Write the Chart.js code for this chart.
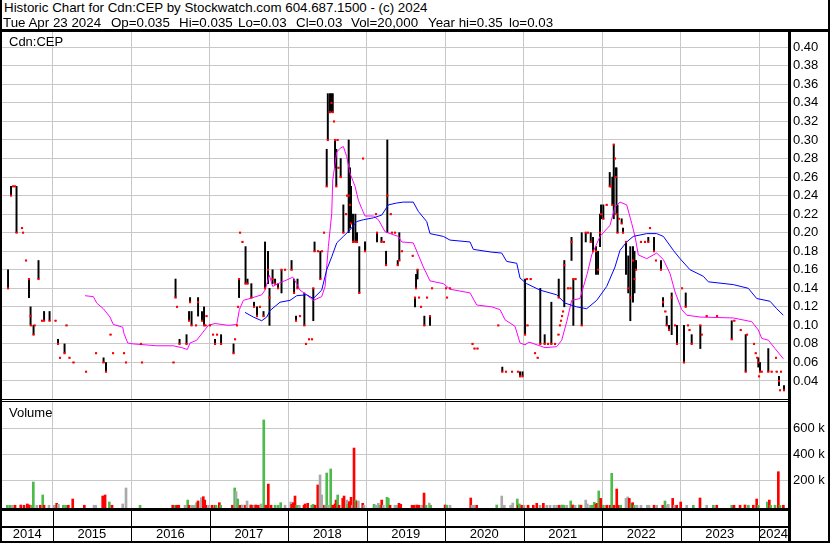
<!DOCTYPE html>
<html>
<head>
<meta charset="utf-8">
<script src="https://cdn.jsdelivr.net/npm/chart.js@4.4.1/dist/chart.umd.min.js"></script>
<style>
  body { margin: 0; background: #fff; }
  #wrap { position: relative; width: 830px; height: 543px; overflow: hidden;
          font-family: "Liberation Sans", Arial, sans-serif; font-size: 13px; color: #000; }
  .txt { position: absolute; white-space: pre; line-height: 14px; }
  .hd { font-size: 13.33px; }
  .ln { position: absolute; background: #000; }
  canvas { position: absolute; left: 0; }
</style>
</head>
<body>
<div id="wrap">
  <canvas id="price" width="830" height="368" style="top:32px"></canvas>
  <canvas id="volume" width="830" height="141" style="top:402px"></canvas>

  <div class="txt hd" style="left:4px;top:1px">Historic Chart for Cdn:CEP by Stockwatch.com 604.687.1500 - (c) 2024</div>
  <div class="txt hd" style="left:3px;top:16px">Tue Apr 23 2024</div>
  <div class="txt hd" style="left:111px;top:16px">Op=0.035</div>
  <div class="txt hd" style="left:179px;top:16px">Hi=0.035</div>
  <div class="txt hd" style="left:238px;top:16px">Lo=0.03</div>
  <div class="txt hd" style="left:296px;top:16px">Cl=0.03</div>
  <div class="txt hd" style="left:351px;top:16px">Vol=20,000</div>
  <div class="txt hd" style="left:428px;top:16px">Year hi=0.35</div>
  <div class="txt hd" style="left:509px;top:16px">lo=0.03</div>
  <div class="txt" style="left:9px;top:35px">Cdn:CEP</div>
  <div class="txt" style="left:9px;top:406px">Volume</div>

  <!-- frame -->
  <div class="ln" style="left:0;top:0;width:2px;height:543px"></div>
  <div class="ln" style="left:828px;top:0;width:2px;height:543px"></div>
  <div class="ln" style="left:0;top:29px;width:830px;height:3px"></div>
  <div class="ln" style="left:788px;top:29px;width:3px;height:514px"></div>
  <div class="ln" style="left:0;top:399px;width:791px;height:1px"></div>
  <div class="ln" style="left:0;top:401px;width:791px;height:1px"></div>
  <div class="ln" style="left:0;top:508px;width:791px;height:3px"></div>
  <div class="ln" style="left:0;top:526px;width:791px;height:2px"></div>
  <div class="ln" style="left:0;top:541px;width:830px;height:2px"></div>
</div>

<script>
// weekly bars, dates as decimal years
const priceDates = [
  2014.432, 2014.470, 2014.496, 2014.521, 2014.540, 2014.610, 2014.623, 2014.661, 2014.699, 2014.719,
  2014.725, 2014.757, 2014.770, 2014.820, 2014.865, 2014.891, 2014.961, 2015.037, 2015.069, 2015.094,
  2015.152, 2015.177, 2015.215, 2015.266, 2015.426, 2015.553, 2015.649, 2015.680, 2015.738, 2015.770,
  2015.910, 2015.935, 2016.126, 2016.139, 2016.540, 2016.566, 2016.585, 2016.617, 2016.706, 2016.738,
  2016.751, 2016.770, 2016.827, 2016.853, 2016.903, 2016.929, 2016.948, 2016.961, 2017.005, 2017.044,
  2017.069, 2017.095, 2017.146, 2017.305, 2017.324, 2017.349, 2017.362, 2017.375, 2017.388, 2017.419,
  2017.458, 2017.483, 2017.532, 2017.566, 2017.604, 2017.642, 2017.687, 2017.706, 2017.744, 2017.763,
  2017.802, 2017.834, 2017.872, 2017.916, 2017.961, 2018.044, 2018.076, 2018.101, 2018.120, 2018.152,
  2018.207, 2018.228, 2018.267, 2018.305, 2018.321, 2018.337, 2018.381, 2018.411, 2018.432, 2018.458,
  2018.492, 2018.506, 2018.534, 2018.553, 2018.569, 2018.585, 2018.598, 2018.614, 2018.630, 2018.642,
  2018.670, 2018.704, 2018.738, 2018.751, 2018.772, 2018.789, 2018.802, 2018.827, 2018.857, 2018.878,
  2018.907, 2018.955, 2018.980, 2019.120, 2019.133, 2019.190, 2019.222, 2019.248, 2019.264, 2019.308,
  2019.324, 2019.362, 2019.397, 2019.417, 2019.451, 2019.588, 2019.617, 2019.630, 2019.649, 2019.668,
  2019.694, 2019.736, 2019.770, 2019.808, 2019.834, 2020.012, 2020.025, 2020.063, 2020.350, 2020.375,
  2020.413, 2020.678, 2020.729, 2020.776, 2020.853, 2020.929, 2020.955, 2020.987, 2021.019, 2021.044,
  2021.050, 2021.091, 2021.146, 2021.180, 2021.213, 2021.269, 2021.312, 2021.354, 2021.401, 2021.445,
  2021.448, 2021.464, 2021.477, 2021.490, 2021.503, 2021.519, 2021.566, 2021.598, 2021.611, 2021.634,
  2021.662, 2021.741, 2021.792, 2021.821, 2021.856, 2021.885, 2021.923, 2021.949, 2021.974, 2021.987,
  2022.016, 2022.059, 2022.098, 2022.114, 2022.131, 2022.149, 2022.165, 2022.174, 2022.184, 2022.197,
  2022.216, 2022.250, 2022.267, 2022.305, 2022.334, 2022.360, 2022.394, 2022.413, 2022.433, 2022.496,
  2022.547, 2022.589, 2022.611, 2022.662, 2022.687, 2022.751, 2022.777, 2022.806, 2022.824, 2022.853,
  2022.887, 2022.930, 2022.955, 2023.019, 2023.044, 2023.066, 2023.095, 2023.114, 2023.142, 2023.252,
  2023.270, 2023.333, 2023.465, 2023.652, 2023.685, 2023.767, 2023.830, 2023.847, 2023.936, 2023.958,
  2023.978, 2023.991, 2024.000, 2024.012, 2024.034, 2024.118, 2024.161, 2024.216, 2024.225, 2024.254,
  2024.267, 2024.280, 2024.318
];
const priceHigh = [
  .16, .25, .25, .25, .25, .205, .20, .17, .15, .12,
  .10, .10, .10, .17, .105, .115, .115, .105, .085, .065,
  .08, .10, .065, .06, .05, .07, .065, .06, .09, .07,
  .07, .06, .08, .06, .06, .15, .12, .085, .09, .115,
  .13, .115, .10, .13, .115, .12, .10, .11, .10, .09,
  .085, .09, .09, .08, .085, .10, .12, .15, .20, .19,
  .185, .15, .145, .125, .12, .12, .115, .19, .18, .14,
  .16, .15, .145, .16, .16, .17, .15, .11, .15, .11,
  .135, .08, .085, .085, .14, .19, .18, .18, .18, .20,
  .29, .35, .35, .35, .35, .32, .30, .29, .30, .27,
  .28, .23, .22, .24, .30, .27, .25, .22, .22, .20,
  .185, .28, .19, .22, .20, .195, .19, .18, .30, .22,
  .20, .20, .17, .20, .18, .175, .13, .155, .16, .13,
  .12, .11, .13, .11, .14, .14, .13, .14, .08, .075,
  .075, .10, .055, .05, .05, .05, .05, .05, .15, .15,
  .10, .15, .07, .065, .14, .09, .08, .125, .08, .09,
  .15, .10, .105, .11, .115, .17, .14, .14, .195, .15,
  .15, .20, .20, .20, .20, .195, .185, .18, .22, .23,
  .23, .23, .265, .25, .26, .295, .28, .27, .27, .23,
  .215, .215, .205, .19, .175, .185, .185, .18, .17, .19,
  .19, .195, .205, .195, .17, .17, .13, .115, .11, .10,
  .135, .10, .10, .14, .10, .135, .10, .095, .09, .10,
  .09, .11, .11, .105, .105, .095, .09, .09, .08, .07,
  .065, .065, .045, .06, .05, .075, .05, .065, .05, .045,
  .03, .05, .035
];
const priceLow = [
  .14, .24, .25, .25, .20, .205, .20, .17, .13, .10,
  .10, .09, .10, .15, .105, .105, .105, .105, .08, .065,
  .07, .10, .065, .06, .05, .07, .06, .05, .09, .07,
  .07, .06, .08, .06, .06, .13, .12, .08, .08, .105,
  .125, .10, .10, .11, .105, .10, .10, .11, .10, .09,
  .08, .09, .08, .07, .085, .10, .12, .13, .20, .19,
  .145, .145, .13, .12, .11, .12, .11, .14, .145, .10,
  .145, .145, .14, .135, .16, .16, .135, .105, .14, .11,
  .10, .08, .085, .085, .105, .18, .18, .15, .18, .20,
  .25, .30, .33, .33, .33, .32, .27, .25, .30, .27,
  .26, .20, .22, .24, .20, .205, .21, .19, .19, .19,
  .135, .28, .18, .22, .19, .19, .19, .165, .20, .22,
  .20, .20, .165, .17, .18, .175, .12, .14, .15, .13,
  .12, .10, .13, .10, .14, .14, .13, .14, .08, .075,
  .075, .10, .05, .05, .05, .05, .045, .045, .09, .15,
  .10, .15, .07, .065, .08, .08, .08, .08, .08, .09,
  .13, .10, .105, .11, .115, .12, .14, .14, .17, .10,
  .15, .10, .19, .20, .19, .18, .155, .155, .185, .215,
  .215, .23, .25, .25, .23, .215, .28, .26, .22, .20,
  .215, .21, .20, .155, .135, .105, .125, .135, .16, .19,
  .19, .19, .205, .18, .17, .16, .12, .115, .10, .095,
  .09, .10, .08, .14, .06, .12, .10, .095, .08, .075,
  .09, .11, .11, .085, .105, .095, .05, .09, .08, .07,
  .065, .055, .045, .05, .05, .05, .05, .065, .05, .035,
  .03, .05, .03
];
const priceClose = [
  .14, .24, .25, .25, .20, .205, .20, .17, .15, .11,
  .10, .09, .10, .15, .105, .105, .105, .105, .08, .065,
  .07, .10, .065, .06, .05, .07, .06, .05, .09, .07,
  .07, .06, .08, .06, .06, .13, .12, .08, .08, .105,
  .125, .10, .10, .125, .105, .10, .10, .11, .10, .09,
  .08, .09, .08, .07, .085, .10, .12, .15, .20, .19,
  .145, .145, .13, .12, .11, .12, .11, .14, .16, .13,
  .15, .145, .14, .16, .16, .16, .135, .105, .14, .11,
  .10, .08, .085, .085, .14, .18, .18, .15, .18, .20,
  .25, .30, .33, .34, .33, .32, .30, .25, .30, .27,
  .26, .20, .22, .24, .24, .23, .21, .19, .19, .19,
  .135, .28, .18, .22, .20, .19, .19, .165, .24, .22,
  .20, .20, .165, .17, .18, .175, .13, .14, .16, .13,
  .12, .10, .13, .11, .14, .14, .13, .14, .08, .075,
  .075, .10, .05, .05, .05, .05, .045, .045, .09, .15,
  .10, .15, .07, .065, .08, .08, .08, .08, .08, .09,
  .13, .10, .105, .11, .115, .165, .14, .14, .19, .15,
  .15, .10, .20, .20, .19, .18, .18, .16, .20, .22,
  .215, .23, .25, .25, .23, .295, .28, .26, .22, .20,
  .215, .21, .20, .19, .14, .13, .17, .15, .16, .19,
  .19, .19, .205, .18, .17, .16, .125, .115, .10, .095,
  .13, .10, .08, .14, .06, .12, .10, .095, .08, .10,
  .09, .11, .11, .085, .105, .095, .05, .09, .08, .07,
  .065, .06, .045, .05, .05, .05, .05, .065, .05, .04,
  .03, .05, .03
];

// moving averages
const maLongDates = [
  2017.451, 2017.557, 2017.664, 2017.728, 2017.770, 2017.897, 2018.025, 2018.110, 2018.237, 2018.321,
  2018.428, 2018.492, 2018.556, 2018.620, 2018.704, 2018.789, 2018.874, 2018.959, 2019.086, 2019.193,
  2019.277, 2019.384, 2019.468, 2019.595, 2019.659, 2019.766, 2019.808, 2019.978, 2020.063, 2020.318,
  2020.360, 2020.594, 2020.722, 2020.785, 2020.913, 2020.955, 2021.040, 2021.210, 2021.422, 2021.528,
  2021.677, 2021.804, 2021.932, 2022.059, 2022.165, 2022.229, 2022.314, 2022.398, 2022.569, 2022.696,
  2022.781, 2022.908, 2022.993, 2023.121, 2023.290, 2023.354, 2023.672, 2023.863, 2023.970, 2024.140,
  2024.225, 2024.309
];
const maLongValues = [
  .114, .109, .105, .109, .116, .125, .127, .132, .133, .129,
  .138, .160, .174, .189, .196, .203, .212, .214, .216, .219,
  .230, .232, .233, .233, .223, .212, .199, .196, .192, .190,
  .182, .179, .178, .169, .167, .151, .145, .138, .133, .124,
  .120, .118, .127, .142, .163, .181, .190, .196, .199, .199,
  .196, .181, .172, .160, .153, .147, .144, .140, .129, .126,
  .118, .111
];
const maShortDates = [
  2015.413, 2015.519, 2015.562, 2015.646, 2015.731, 2015.773, 2015.893, 2015.910, 2015.957, 2016.028,
  2016.326, 2016.538, 2016.645, 2016.716, 2016.751, 2016.836, 2016.900, 2016.984, 2017.069, 2017.239,
  2017.346, 2017.379, 2017.430, 2017.515, 2017.664, 2017.706, 2017.761, 2017.804, 2017.897, 2017.983,
  2018.059, 2018.110, 2018.152, 2018.237, 2018.321, 2018.428, 2018.471, 2018.513, 2018.556, 2018.569,
  2018.620, 2018.662, 2018.704, 2018.747, 2018.789, 2018.853, 2018.895, 2018.938, 2018.980, 2019.086,
  2019.150, 2019.235, 2019.299, 2019.404, 2019.448, 2019.595, 2019.659, 2019.723, 2019.808, 2019.978,
  2020.063, 2020.318, 2020.403, 2020.594, 2020.700, 2020.764, 2020.891, 2020.955, 2021.019, 2021.069,
  2021.171, 2021.273, 2021.422, 2021.486, 2021.550, 2021.613, 2021.719, 2021.812, 2021.868, 2021.974,
  2022.101, 2022.165, 2022.229, 2022.314, 2022.378, 2022.420, 2022.462, 2022.569, 2022.696, 2022.781,
  2022.866, 2022.930, 2023.015, 2023.079, 2023.248, 2023.672, 2023.907, 2023.991, 2024.034, 2024.119,
  2024.204, 2024.310
];
const maShortValues = [
  .132, .131, .124, .118, .109, .101, .098, .091, .081, .080,
  .078, .078, .076, .074, .081, .084, .091, .100, .102, .100,
  .101, .117, .127, .129, .133, .138, .154, .142, .146, .149,
  .152, .145, .138, .133, .127, .131, .142, .185, .221, .257,
  .287, .291, .293, .282, .264, .250, .235, .226, .218, .218,
  .214, .201, .199, .196, .190, .189, .176, .163, .148, .145,
  .139, .135, .122, .120, .117, .106, .099, .081, .079, .082,
  .079, .076, .077, .084, .104, .127, .129, .156, .176, .196,
  .208, .228, .233, .230, .210, .196, .176, .172, .178, .171,
  .156, .136, .117, .111, .109, .108, .104, .095, .086, .084,
  .075, .064
];

// volume: g = up, r = down, k = unchanged
const volDates = [
  2014.423, 2014.457, 2014.487, 2014.521, 2014.594, 2014.636, 2014.678, 2014.703, 2014.741, 2014.754,
  2014.798, 2014.843, 2014.874, 2014.891, 2014.954, 2015.022, 2015.052, 2015.073, 2015.136, 2015.167,
  2015.200, 2015.256, 2015.404, 2015.528, 2015.549, 2015.638, 2015.668, 2015.723, 2015.757, 2015.893,
  2015.935, 2016.114, 2016.530, 2016.560, 2016.581, 2016.607, 2016.687, 2016.721, 2016.738, 2016.772,
  2016.805, 2016.836, 2016.853, 2016.895, 2016.920, 2016.938, 2016.954, 2016.989, 2017.031, 2017.069,
  2017.082, 2017.124, 2017.142, 2017.290, 2017.320, 2017.337, 2017.358, 2017.388, 2017.417, 2017.455,
  2017.477, 2017.524, 2017.549, 2017.566, 2017.588, 2017.621, 2017.655, 2017.690, 2017.715, 2017.748,
  2017.783, 2017.834, 2017.872, 2017.906, 2017.961, 2018.034, 2018.046, 2018.067, 2018.088, 2018.110,
  2018.143, 2018.203, 2018.216, 2018.250, 2018.301, 2018.318, 2018.343, 2018.378, 2018.407, 2018.428,
  2018.462, 2018.479, 2018.492, 2018.509, 2018.543, 2018.569, 2018.598, 2018.611, 2018.632, 2018.649,
  2018.696, 2018.713, 2018.747, 2018.760, 2018.780, 2018.802, 2018.818, 2018.840, 2018.862, 2018.878,
  2018.895, 2018.951, 2018.967, 2019.095, 2019.116, 2019.150, 2019.171, 2019.193, 2019.213, 2019.260,
  2019.277, 2019.299, 2019.362, 2019.384, 2019.413, 2019.435, 2019.579, 2019.604, 2019.639, 2019.668,
  2019.706, 2019.732, 2019.757, 2019.799, 2019.817, 2020.000, 2020.021, 2020.063, 2020.327, 2020.343,
  2020.369, 2020.403, 2020.658, 2020.722, 2020.755, 2020.836, 2020.862, 2020.920, 2020.933, 2020.946,
  2020.977, 2021.006, 2021.057, 2021.124, 2021.168, 2021.210, 2021.252, 2021.295, 2021.337, 2021.388,
  2021.422, 2021.455, 2021.494, 2021.515, 2021.550, 2021.601, 2021.626, 2021.656, 2021.710, 2021.732,
  2021.792, 2021.812, 2021.847, 2021.868, 2021.901, 2021.923, 2021.940, 2021.958, 2021.983, 2022.016,
  2022.059, 2022.101, 2022.123, 2022.152, 2022.187, 2022.207, 2022.238, 2022.305, 2022.327, 2022.347,
  2022.369, 2022.390, 2022.411, 2022.445, 2022.496, 2022.577, 2022.598, 2022.662, 2022.696, 2022.773,
  2022.802, 2022.824, 2022.844, 2022.900, 2022.921, 2022.951, 2023.002, 2023.079, 2023.163, 2023.248,
  2023.333, 2023.418, 2023.461, 2023.652, 2023.681, 2023.758, 2023.821, 2023.864, 2023.927, 2023.970,
  2023.991, 2024.106, 2024.131, 2024.149, 2024.204, 2024.246, 2024.267, 2024.310
];
const volumes = [
  8000, 8000, 8000, 8000, 10000, 8000, 18000, 10000, 8000, 187000,
  8000, 8000, 87000, 8000, 8000, 8000, 23000, 15000, 8000, 8000,
  8000, 56000, 8000, 8000, 8000, 79000, 87000, 33000, 8000, 18000,
  141000, 8000, 8000, 8000, 8000, 8000, 8000, 48000, 8000, 8000,
  8000, 28000, 41000, 66000, 74000, 48000, 8000, 8000, 8000, 8000,
  8000, 28000, 8000, 8000, 141000, 113000, 56000, 8000, 10000, 8000,
  41000, 10000, 8000, 8000, 10000, 8000, 18000, 664000, 8000, 171000,
  8000, 8000, 8000, 28000, 8000, 33000, 15000, 28000, 79000, 8000,
  8000, 8000, 18000, 23000, 8000, 15000, 8000, 164000, 241000, 87000,
  8000, 8000, 256000, 8000, 287000, 8000, 18000, 48000, 87000, 8000,
  61000, 79000, 48000, 15000, 36000, 69000, 8000, 448000, 48000, 36000,
  41000, 23000, 8000, 15000, 8000, 23000, 8000, 48000, 8000, 69000,
  61000, 8000, 8000, 8000, 23000, 15000, 8000, 8000, 10000, 8000,
  8000, 102000, 8000, 25000, 8000, 10000, 8000, 8000, 64000, 8000,
  8000, 8000, 10000, 79000, 8000, 8000, 25000, 56000, 8000, 18000,
  8000, 8000, 8000, 8000, 23000, 8000, 23000, 8000, 8000, 8000,
  8000, 8000, 10000, 8000, 8000, 41000, 10000, 8000, 10000, 8000,
  48000, 18000, 8000, 8000, 31000, 18000, 23000, 118000, 61000, 8000,
  8000, 8000, 254000, 8000, 133000, 8000, 8000, 61000, 72000, 61000,
  23000, 28000, 8000, 8000, 8000, 8000, 8000, 8000, 8000, 8000,
  41000, 8000, 15000, 61000, 8000, 8000, 33000, 8000, 8000, 64000,
  8000, 8000, 8000, 8000, 8000, 8000, 10000, 8000, 8000, 56000,
  8000, 33000, 48000, 8000, 8000, 266000, 8000, 8000
];
const volDirs = [
  'g','g','k','r','r','r','r','r','g','g',
  'k','r','g','r','k','k','r','k','g','g',
  'r','r','r','k','k','r','r','g','r','k',
  'k','g','r','g','r','r','k','g','r','k',
  'k','g','r','k','r','r','r','k','r','r',
  'g','r','g','r','g','k','g','r','k','r',
  'k','r','r','k','r','r','k','g','r','r',
  'r','g','g','g','k','k','r','r','r','g',
  'k','r','r','r','g','g','r','r','k','k',
  'r','k','g','k','g','r','r','r','g','r',
  'r','r','k','g','r','r','k','r','g','r',
  'k','r','k','g','k','k','g','r','k','g',
  'g','r','k','k','r','r','r','r','r','r',
  'k','r','g','k','g','r','g','k','r','k',
  'k','r','g','k','k','k','k','g','r','g',
  'r','k','r','r','r','k','r','k','k','k',
  'k','r','g','g','k','g','r','k','g','r',
  'k','k','k','g','g','r','r','g','r','g',
  'r','r','g','r','r','r','g','k','k','r',
  'g','r','g','k','k','k','k','r','k','r',
  'g','k','k','r','k','r','r','k','g','r',
  'k','g','r','g','r','r','r','g','r','r',
  'g','g','r','g','g','r','g','r'
];

const yearList = [2014, 2015, 2016, 2017, 2018, 2019, 2020, 2021, 2022, 2023, 2024];
const gridYears = [2015, 2016, 2017, 2018, 2019, 2020, 2021, 2022, 2023, 2024];
const priceTicks = [0.04, 0.06, 0.08, 0.10, 0.12, 0.14, 0.16, 0.18, 0.20, 0.22,
                    0.24, 0.26, 0.28, 0.30, 0.32, 0.34, 0.36, 0.38, 0.40];
const volTicks = [200000, 400000, 600000];

const X_MIN = 2014.355, X_MAX = 2024.369;
const PRICE_MIN = 0.0195, PRICE_MAX = 0.4165;
const VOL_MIN = -13000, VOL_MAX = 802000;
const FONT = { family: '"Liberation Sans", Arial, sans-serif', size: 13 };
const GRID = '#c8c8c8';
const dirColors = { g: '#4cbb4c', r: '#ff0000', k: '#a9a9a9' };

Chart.defaults.font.family = FONT.family;
Chart.defaults.color = '#000';

function xScale() {
  return {
    type: 'linear', min: X_MIN, max: X_MAX, offset: false,
    afterBuildTicks: s => { s.ticks = gridYears.map(v => ({ value: v })); },
    grid: { color: GRID, drawTicks: false, offset: false },
    border: { display: false },
    ticks: { display: false }
  };
}

function rightAxis(min, max, ticks, fmt) {
  return {
    position: 'right', min: min, max: max,
    afterBuildTicks: s => { s.ticks = ticks.map(v => ({ value: v })); },
    afterFit: s => { s.width = 42; s.paddingTop = 0; s.paddingBottom = 0; },
    grid: { color: GRID, drawTicks: false },
    border: { display: false },
    ticks: { padding: 5, font: FONT, color: '#000', callback: fmt }
  };
}

new Chart(document.getElementById('price'), {
  type: 'bar',
  data: {
    datasets: [
      {
        type: 'scatter',
        data: priceDates.map((d, i) => ({ x: d, y: priceClose[i] })),
        pointStyle: 'rect', pointRadius: 1.5, pointHoverRadius: 0, borderWidth: 0,
        backgroundColor: '#ff0000', order: 0
      },
      {
        type: 'line',
        data: maLongDates.map((d, i) => ({ x: d, y: maLongValues[i] })),
        borderColor: '#0000ff', borderWidth: 1, pointRadius: 0, pointHoverRadius: 0, tension: 0, order: 1
      },
      {
        type: 'line',
        data: maShortDates.map((d, i) => ({ x: d, y: maShortValues[i] })),
        borderColor: '#ff00ff', borderWidth: 1, pointRadius: 0, pointHoverRadius: 0, tension: 0, order: 1
      },
      {
        type: 'bar',
        data: priceDates.map((d, i) => ({ x: d, y: [priceLow[i], priceHigh[i]] })),
        backgroundColor: '#000', barThickness: 1.3, borderWidth: 0, order: 2
      }
    ]
  },
  options: {
    responsive: false, animation: false, events: [],
    layout: { autoPadding: false, padding: { left: 2, right: 0, top: 0, bottom: 0 } },
    plugins: { legend: { display: false }, tooltip: { enabled: false } },
    scales: {
      x: xScale(),
      y: rightAxis(PRICE_MIN, PRICE_MAX, priceTicks, v => v.toFixed(2))
    }
  }
});

// year boxes under the volume panel
const yearRow = {
  id: 'yearRow',
  afterDraw(chart) {
    const { ctx, chartArea } = chart;
    const x = chart.scales.x;
    const top = chartArea.bottom + 3, bottom = chartArea.bottom + 33;
    ctx.save();
    ctx.strokeStyle = '#000';
    ctx.fillStyle = '#000';
    ctx.lineWidth = 1;
    ctx.font = FONT.size + 'px ' + FONT.family;
    ctx.textAlign = 'center';
    ctx.textBaseline = 'middle';
    yearList.forEach(yr => {
      const p = x.getPixelForValue(yr);
      if (p > chartArea.left && p < chartArea.right) {
        const px = Math.round(p) + 0.5;
        ctx.beginPath();
        ctx.moveTo(px, top);
        ctx.lineTo(px, bottom);
        ctx.stroke();
      }
      const l = Math.max(chartArea.left, p);
      const r = Math.min(chartArea.right, x.getPixelForValue(yr + 1));
      ctx.fillText(String(yr), (l + r) / 2, chartArea.bottom + 26);
    });
    ctx.restore();
  }
};

new Chart(document.getElementById('volume'), {
  type: 'bar',
  data: {
    datasets: [{
      data: volDates.map((d, i) => ({ x: d, y: volumes[i] })),
      backgroundColor: volDirs.map(c => dirColors[c]),
      base: VOL_MIN, barThickness: 2, borderWidth: 0
    }]
  },
  options: {
    responsive: false, animation: false, events: [],
    layout: { autoPadding: false, padding: { left: 2, right: 0, top: 0, bottom: 35 } },
    plugins: { legend: { display: false }, tooltip: { enabled: false } },
    scales: {
      x: xScale(),
      y: rightAxis(VOL_MIN, VOL_MAX, volTicks, v => (v / 1000) + ' k')
    }
  },
  plugins: [yearRow]
});
</script>
</body>
</html>
